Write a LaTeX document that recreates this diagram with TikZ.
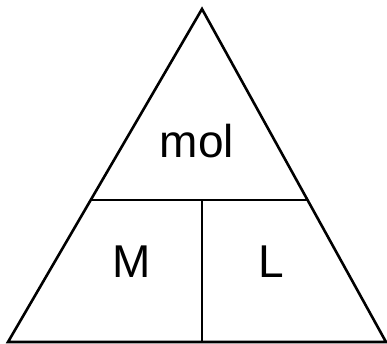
\documentclass[tikz,border=0pt]{standalone}
\usepackage{fontspec}
\setmainfont{Liberation Sans}
\usetikzlibrary{calc}
\begin{document}
\begin{tikzpicture}[x=1pt,y=1pt,
  edge/.style={line width=2.6pt,line join=miter,black},
  lbl/.style={inner sep=0pt,anchor=base,font=\fontsize{46}{55}\selectfont}]
\useasboundingbox (0,0) rectangle (387,344);
\coordinate (A) at (202,335);
\coordinate (B) at (8,2);
\coordinate (C) at (386,2);
\coordinate (P) at ($(B)!0.4264!(A)$);
\coordinate (Q) at ($(C)!0.4264!(A)$);
\coordinate (T) at (202,144);
\coordinate (D) at (202,2);
\draw[edge] (A) -- (B) -- (C) -- cycle;
\draw[edge] (P) -- (Q);
\draw[edge] (T) -- (D);
\node[lbl] (mol) at (197,186) {mol};
\node[lbl] (m) at (131.3,66.5) {M};
\node[lbl] (l) at (271.3,66.5) {L};
\end{tikzpicture}
\end{document}
